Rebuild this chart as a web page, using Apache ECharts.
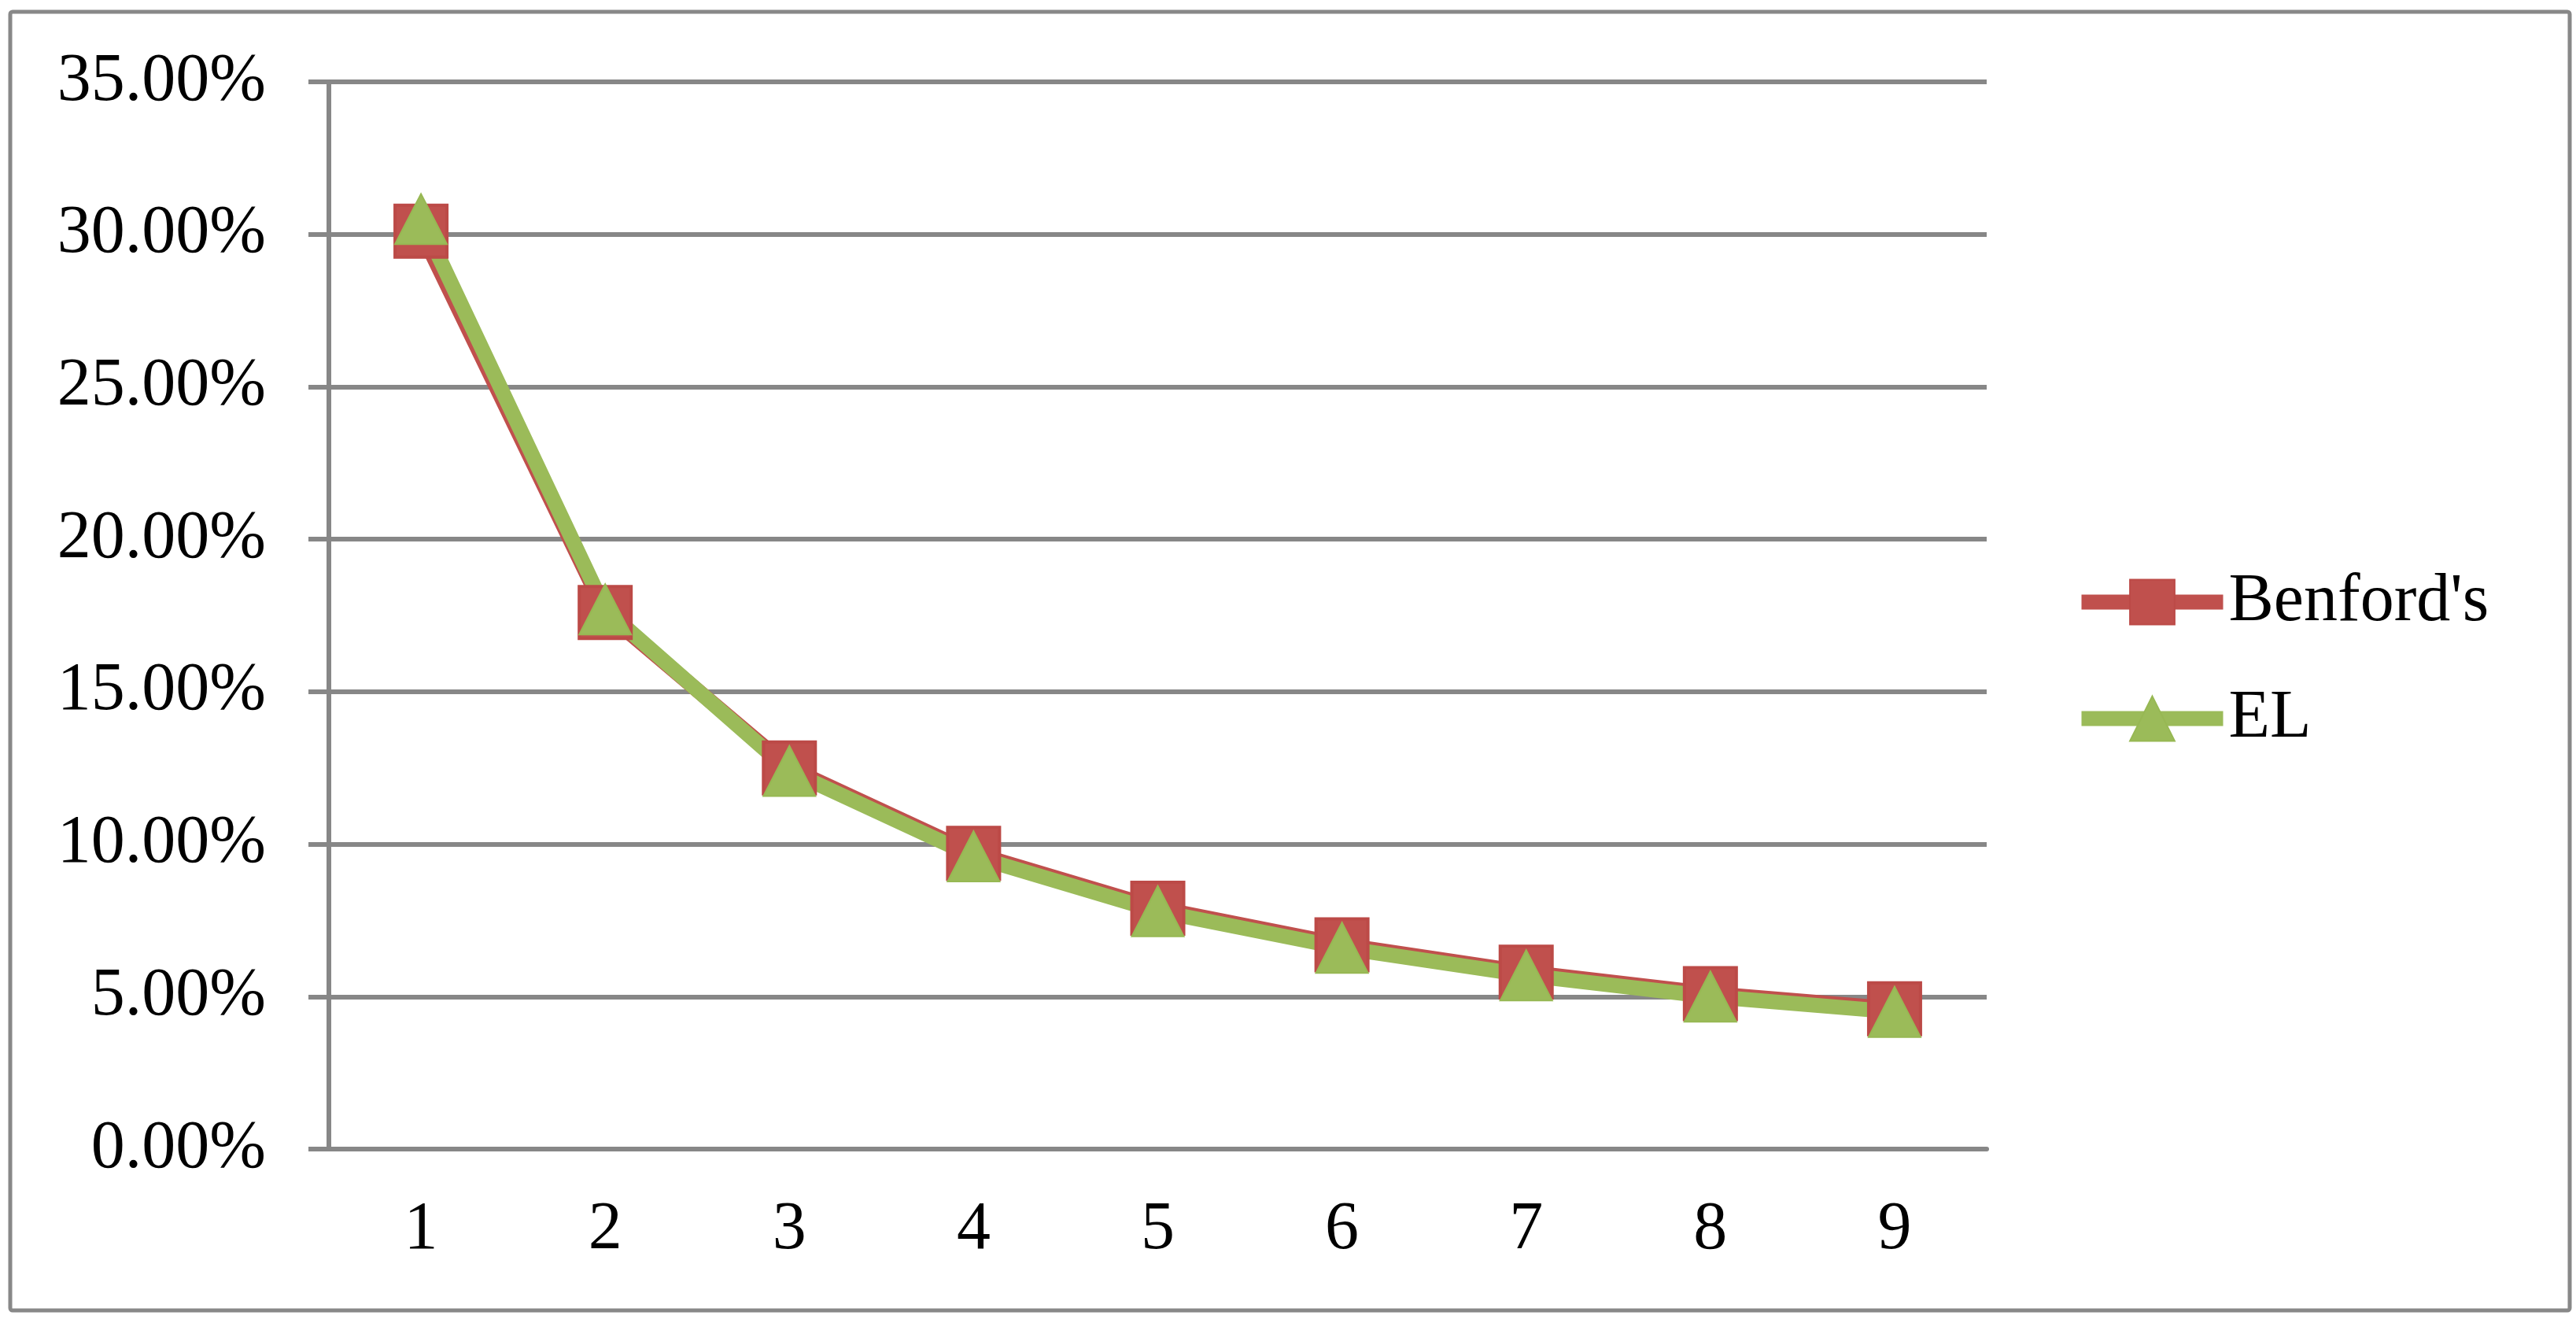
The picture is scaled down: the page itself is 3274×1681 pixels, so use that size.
<!DOCTYPE html>
<html>
<head>
<meta charset="utf-8">
<title>Benford's vs EL</title>
<script src="https://cdn.jsdelivr.net/npm/echarts@6/dist/echarts.min.js"></script>
<style>
  html, body { margin: 0; padding: 0; background: #fff; }
  #chart { width: 3274px; height: 1681px; }
</style>
</head>
<body>
<div id="chart"></div>
<script>
// first digit frequencies (%)
var digits = ['1', '2', '3', '4', '5', '6', '7', '8', '9'];
var benford = [30.1, 17.6, 12.5, 9.7, 7.9, 6.7, 5.8, 5.1, 4.6];
var el = [30.5, 17.7, 12.4, 9.6, 7.8, 6.6, 5.7, 5.0, 4.5];

var gridColor = '#878787';
var font = 'Liberation Serif';

var option = {
  backgroundColor: '#fff',
  animation: false,
  textStyle: { fontFamily: font },
  graphic: [{
    type: 'rect',
    shape: { x: 13, y: 15, width: 3253, height: 1650, r: 3 },
    style: { fill: 'none', stroke: '#888', lineWidth: 5 },
    silent: true
  }],
  grid: { left: 418, right: 749, top: 104, bottom: 221 },
  legend: {
    orient: 'vertical',
    left: 2636,
    top: 722,
    padding: 0,
    itemGap: 62,
    itemWidth: 180,
    itemHeight: 71,
    lineStyle: { width: 19 },
    textStyle: { fontSize: 86, fontFamily: font, color: '#000', padding: [0, 0, 0, 2] },
    data: ["Benford's", 'EL']
  },
  xAxis: {
    type: 'category',
    data: digits,
    boundaryGap: true,
    axisLine: { lineStyle: { color: gridColor, width: 6 } },
    axisTick: { length: 27, lineStyle: { color: gridColor, width: 6 } },
    axisLabel: { fontSize: 86, fontFamily: font, color: '#000', margin: 60 }
  },
  yAxis: {
    type: 'value',
    min: 0,
    max: 35,
    interval: 5,
    axisLine: { show: true, lineStyle: { color: gridColor, width: 6 } },
    axisTick: { show: true, length: 26, lineStyle: { color: gridColor, width: 6 } },
    splitLine: { lineStyle: { color: gridColor, width: 6 } },
    axisLabel: {
      fontSize: 86, fontFamily: font, color: '#000', margin: 80,
      formatter: function (v) { return v.toFixed(2) + '%'; }
    }
  },
  series: [
    {
      name: "Benford's",
      type: 'line',
      data: benford,
      symbol: 'rect',
      symbolSize: 66,
      lineStyle: { color: '#C0504D', width: 19 },
      itemStyle: { color: '#C0504D', borderColor: '#BC4A47', borderWidth: 4 }
    },
    {
      name: 'EL',
      type: 'line',
      data: el,
      symbol: 'triangle',
      symbolSize: [66, 64],
      lineStyle: { color: '#9BBB59', width: 19 },
      itemStyle: { color: '#9BBB59', borderColor: '#97B853', borderWidth: 2 }
    }
  ]
};

var chart = echarts.init(document.getElementById('chart'));
chart.setOption(option);
</script>
</body>
</html>
